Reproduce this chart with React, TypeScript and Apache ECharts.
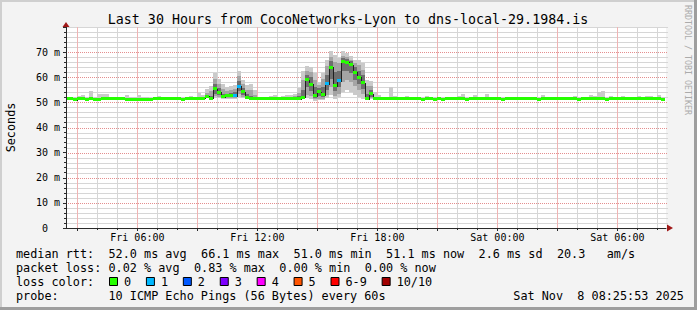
import React, { useEffect, useRef } from 'react';
import * as echarts from 'echarts';

// ---- time frame (hours since Fri 00:00) ----
const START_HOUR = 2 + 25 / 60 + 53 / 3600; // Fri 02:25:53
const SPAN_HOURS = 30;
const FIRST_STEP_HOUR = 2.4; // 12-minute consolidation steps
const STEP_HOURS = 0.2;

// ---- median rtt per 12-minute step (ms) ----
const median = [
  51.6, 51.6, 51.0, 51.7, 51.6, 51.2, 51.4, 51.3, 51.3, 51.6,
  51.6, 51.6, 51.6, 51.6, 51.6, 51.3, 51.3, 51.3, 51.3, 51.3,
  51.3, 51.2, 51.4, 51.4, 51.5, 51.6, 51.5, 51.4, 51.5, 51.2,
  51.5, 51.6, 51.6, 51.6, 51.6, 52.4, 51.7, 55.5, 54.1, 52.3,
  52.6, 52.6, 52.6, 56.4, 54.3, 52.1, 51.5, 51.5, 51.4, 51.4,
  51.4, 51.5, 51.5, 51.4, 51.4, 51.4, 51.4, 51.5, 51.5, 52.1,
  59.0, 57.3, 52.6, 54.2, 53.1, 57.5, 64.0, 56.6, 58.6, 66.1,
  65.9, 65.0, 61.9, 60.0, 57.9, 51.4, 53.4, 51.7, 51.6, 51.6,
  51.6, 51.6, 51.5, 51.5, 51.5, 51.5, 51.5, 51.5, 51.4, 51.2,
  51.5, 51.5, 51.2, 51.5, 51.3, 51.5, 51.5, 51.5, 51.6, 51.6,
  51.2, 51.5, 51.5, 51.5, 51.5, 51.5, 51.5, 51.5, 51.5, 51.2,
  51.4, 51.5, 51.5, 51.5, 51.5, 51.5, 51.5, 51.5, 51.2, 51.5,
  51.5, 51.5, 51.5, 51.5, 51.5, 51.5, 51.5, 51.6, 51.2, 51.4,
  51.4, 51.4, 51.4, 51.7, 51.4, 51.2, 51.5, 51.4, 51.4, 51.4,
  51.4, 51.4, 51.4, 51.4, 51.4, 51.6, 51.4, 51.4, 51.4, 51.1,
];

// ---- highest ping per step (ms) ----
const pingMax = [
  52.2, 52.2, 52.0, 52.4, 53.0, 52.0, 54.7, 52.2, 53.3, 53.3,
  53.3, 52.3, 52.2, 52.1, 52.0, 52.8, 52.0, 52.2, 53.0, 52.1,
  52.0, 51.9, 52.2, 52.6, 52.1, 52.2, 52.3, 52.0, 52.2, 52.3,
  52.2, 52.4, 52.3, 53.6, 53.0, 55.5, 56.5, 61.5, 59.5, 57.5,
  56.0, 56.5, 57.0, 62.3, 59.0, 57.0, 57.5, 55.0, 52.3, 52.2,
  52.0, 52.4, 52.9, 52.2, 52.4, 52.9, 53.0, 53.3, 55.7, 62.3,
  64.3, 64.0, 61.6, 58.3, 61.5, 66.9, 70.3, 69.0, 67.6, 70.3,
  69.6, 68.3, 67.0, 67.0, 65.6, 59.0, 58.7, 54.3, 53.0, 52.3,
  52.2, 56.0, 52.4, 52.2, 52.1, 52.5, 52.0, 52.2, 52.1, 52.3,
  52.6, 52.1, 52.2, 52.0, 52.3, 52.1, 52.2, 52.0, 52.4, 53.4,
  52.2, 52.1, 52.8, 52.2, 52.1, 53.2, 52.3, 52.0, 52.2, 52.1,
  52.0, 52.2, 52.1, 52.3, 52.2, 52.0, 52.2, 52.1, 52.0, 53.0,
  52.2, 52.1, 52.0, 52.2, 52.1, 52.3, 52.2, 52.4, 52.0, 52.2,
  52.3, 53.0, 52.4, 54.0, 54.6, 52.2, 52.4, 52.1, 52.2, 52.7,
  52.1, 52.2, 52.1, 52.7, 52.2, 52.4, 52.7, 52.1, 52.8, 52.0,
];

// ---- lowest ping per step (ms) ----
const pingMin = [
  51.2, 51.2, 50.7, 51.3, 51.2, 50.9, 51.0, 51.0, 51.0, 51.2,
  51.2, 51.2, 51.2, 51.3, 51.2, 51.0, 51.0, 51.0, 51.0, 51.0,
  51.0, 50.9, 51.1, 51.1, 51.1, 51.2, 51.2, 51.1, 51.1, 50.9,
  51.2, 51.2, 51.3, 51.2, 51.2, 51.6, 51.1, 51.8, 51.6, 51.3,
  51.5, 51.5, 51.4, 52.0, 51.6, 51.2, 51.1, 51.1, 51.1, 51.1,
  51.1, 51.2, 51.1, 51.1, 51.1, 51.1, 51.0, 51.1, 51.1, 51.2,
  51.8, 51.5, 50.6, 50.8, 51.0, 51.8, 53.0, 51.5, 52.0, 54.0,
  55.0, 54.0, 53.0, 52.0, 51.5, 50.8, 51.2, 51.3, 51.2, 51.2,
  51.2, 51.2, 51.1, 51.2, 51.1, 51.2, 51.1, 51.2, 51.1, 50.9,
  51.2, 51.1, 50.9, 51.2, 51.0, 51.1, 51.2, 51.1, 51.2, 51.2,
  50.9, 51.2, 51.1, 51.2, 51.1, 51.2, 51.1, 51.2, 51.1, 50.9,
  51.1, 51.2, 51.1, 51.2, 51.1, 51.2, 51.1, 51.2, 50.9, 51.2,
  51.1, 51.2, 51.1, 51.2, 51.1, 51.2, 51.1, 51.2, 50.9, 51.1,
  51.1, 51.1, 51.1, 51.3, 51.1, 50.9, 51.2, 51.1, 51.1, 51.1,
  51.1, 51.1, 51.1, 51.1, 51.1, 51.2, 51.1, 51.1, 51.1, 50.8,
];

// ---- inner smoke bands for the busy window (steps 35..76) ----
const detailStart = 35;
const midLo = [
  51.8, 51.4, 52.5, 52.2, 51.7, 51.8, 51.8, 51.7, 53.2, 52.2,
  51.6, 51.3, 51.3, 51.3, 51.3, 51.2, 51.3, 51.3, 51.2, 51.2,
  51.2, 51.2, 51.3, 51.3, 51.5, 53.0, 52.5, 51.2, 51.5, 51.5,
  53.0, 56.0, 52.5, 53.5, 58.0, 59.0, 58.0, 56.5, 55.0, 53.5,
  51.1, 51.6,
];
const midHi = [
  53.8, 54.5, 59.5, 57.5, 55.5, 54.5, 55.0, 55.5, 60.5, 57.3,
  55.0, 55.0, 53.0, 51.9, 51.8, 51.7, 51.9, 52.2, 51.8, 51.9,
  52.2, 52.3, 52.5, 53.8, 59.0, 62.5, 62.0, 59.0, 57.0, 59.5,
  64.5, 68.0, 66.0, 65.5, 68.5, 68.0, 67.0, 65.5, 65.0, 63.0,
  56.5, 56.5,
];
const coreLo = [
  52.1, 51.5, 53.5, 53.0, 52.0, 52.2, 52.2, 52.1, 54.5, 53.0,
  51.8, 51.4, 51.4, 51.3, 51.3, 51.3, 51.4, 51.4, 51.3, 51.3,
  51.3, 51.3, 51.4, 51.4, 51.8, 56.0, 54.5, 51.8, 52.5, 52.2,
  55.0, 59.5, 54.5, 56.0, 62.5, 62.5, 61.5, 59.0, 57.5, 55.5,
  51.2, 52.2,
];
const coreHi = [
  52.9, 52.5, 57.5, 55.8, 53.5, 53.5, 53.8, 54.0, 58.5, 55.8,
  53.2, 52.5, 52.0, 51.6, 51.6, 51.5, 51.7, 51.8, 51.6, 51.6,
  51.7, 51.7, 51.8, 52.5, 55.0, 61.0, 60.0, 56.0, 55.8, 56.0,
  61.0, 66.5, 62.0, 62.5, 67.5, 67.2, 66.5, 64.0, 62.5, 61.0,
  53.5, 55.0,
];

// ---- packet loss (steps with lost pings, and how many) ----
const lossIndex = [42, 43, 65, 68];
const lossLevel = [1, 1, 1, 1];
const lossColors = ['#26ff00', '#00b8ff', '#0059ff', '#7e00ff', '#ff00ff', '#ff5500', '#ff0000', '#a10000'];
const lossLabels = ['0', '1', '2', '3', '4', '5', '6-9', '10/10'];

// ---- axis ticks / grid ----
const minorHours = [4, 5, 7, 8, 10, 11, 13, 14, 16, 17, 19, 20, 22, 23, 25, 26, 28, 29, 31, 32];
const majorHours = [3, 6, 9, 12, 15, 18, 21, 24, 27, 30];
const labelHours = [6, 12, 18, 24, 30];
const yMax = 80;
const yInterval = 10;
const yMinorValues = [2, 4, 6, 8, 12, 14, 16, 18, 22, 24, 26, 28, 32, 34, 36, 38, 42, 44, 46, 48, 52, 54, 56, 58, 62, 64, 66, 68, 72, 74, 76, 78, 80];
const yMajorValues = [10, 20, 30, 40, 50, 60, 70];

// ---- texts ----
const title = 'Last 30 Hours from CocoNetworks-Lyon to dns-local-29.1984.is';
const rttStats = ['52.0 ms avg', '66.1 ms max', '51.0 ms min', '51.1 ms now', '2.6 ms sd', '20.3', 'am/s'];
const rttCols = [13, 26, 39, 52, 65, 76, 83];
const lossStats = ['0.02 % avg', '0.83 % max', '0.00 % min', '0.00 % now'];
const lossCols = [13, 25, 37, 49];
const probeText = '10 ICMP Echo Pings (56 Bytes) every 60s';
const stampDay = 'Sat Nov';
const stampRest = '8 08:25:53 2025';

const MONO = '"DejaVu Sans Mono", monospace';
const CHAR = 7.117;
const LEG_FONT = `11.8px ${MONO}`;

const RED = '#e48f8f';
const RED_SOFT = '#f0b4b4';
const GRAY_SOFT = '#d6d6d6';

const stepX = (i: number) => FIRST_STEP_HOUR + i * STEP_HOURS;

const clampX = (params: any, l: number, r: number) => {
  const cs = params.coordSys;
  return [Math.max(l, cs.x), Math.min(r, cs.x + cs.width)];
};

function buildOption() {
  const outerData = median.map((_, i) => [stepX(i), stepX(i + 1), pingMin[i], pingMax[i]]);
  const midData = midLo.map((lo, k) => [stepX(detailStart + k), stepX(detailStart + k + 1), lo, midHi[k]]);
  const coreData = coreLo.map((lo, k) => [stepX(detailStart + k), stepX(detailStart + k + 1), lo, coreHi[k]]);
  const lossOf = (i: number) => {
    const k = lossIndex.indexOf(i);
    return k >= 0 ? lossLevel[k] : 0;
  };
  const barData = median.map((m, i) => [stepX(i), stepX(i + 1), m, lossOf(i), i > 0 ? median[i - 1] : m]);

  const bandRender = (fill: string) => (params: any, api: any) => {
    const a = api.coord([api.value(0), api.value(3)]);
    const b = api.coord([api.value(1), api.value(2)]);
    const [l, r] = clampX(params, Math.round(a[0]), Math.round(b[0]));
    const y = Math.round(a[1]);
    const h = Math.max(1, Math.round(b[1]) - y);
    return { type: 'rect', shape: { x: l, y, width: Math.max(0, r - l), height: h }, style: { fill } };
  };

  const lineRender = (params: any, api: any) => {
    const a = api.coord([api.value(0), api.value(2)]);
    const b = api.coord([api.value(1), api.value(2)]);
    const p = api.coord([api.value(0), api.value(4)]);
    const [l, r] = clampX(params, Math.round(a[0]), Math.round(b[0]));
    const y = Math.round(a[1]);
    const py = Math.round(p[1]);
    const top = Math.min(y, py);
    const bot = Math.max(y, py);
    return {
      type: 'group',
      children: [
        { type: 'rect', shape: { x: l, y: y - 0.5, width: Math.max(0, r - l), height: 1 }, style: { fill: '#202020' } },
        { type: 'rect', shape: { x: l, y: top, width: 1, height: bot - top + 1 }, style: { fill: '#202020' } },
      ],
    };
  };

  const barRender = (params: any, api: any) => {
    const a = api.coord([api.value(0), api.value(2)]);
    const b = api.coord([api.value(1), api.value(2)]);
    const [l, r] = clampX(params, Math.round(a[0]), Math.round(b[0]));
    const y = Math.round(a[1] - 1.5);
    return {
      type: 'rect',
      shape: { x: l, y, width: Math.max(0, r - l), height: 3 },
      style: { fill: lossColors[api.value(3)] },
    };
  };

  const axisColor = '#2a2a2a';
  const arrowColor = '#a01818';

  const xLabel = (v: number) => {
    const day = v < 24 ? 'Fri' : 'Sat';
    const h = Math.round(v % 24);
    return `${day} ${String(h).padStart(2, '0')}:00`;
  };

  return {
    animation: false,
    backgroundColor: '#f3f3f3',
    textStyle: { fontFamily: MONO },
    grid: {
      left: 66,
      top: 27,
      width: 600,
      height: 201,
      show: true,
      z: 0,
      backgroundColor: '#ffffff',
      borderWidth: 0,
      containLabel: false,
      outerBoundsMode: 'none',
    },
    xAxis: [
      {
        type: 'value',
        min: START_HOUR,
        max: START_HOUR + SPAN_HOURS,
        position: 'bottom',
        z: 5,
        axisLine: { show: true, onZero: false, lineStyle: { color: axisColor, width: 1 } },
        axisTick: { show: true, customValues: minorHours, length: 2, lineStyle: { color: axisColor } },
        splitLine: { show: false },
        axisLabel: {
          show: true,
          customValues: labelHours,
          formatter: xLabel,
          fontSize: 10,
          fontFamily: MONO,
          color: '#000',
          margin: 4,
        },
      },
      {
        type: 'value',
        min: START_HOUR,
        max: START_HOUR + SPAN_HOURS,
        position: 'bottom',
        z: 5,
        axisLine: {
          show: true,
          onZero: false,
          symbol: ['none', 'triangle'],
          symbolSize: [7, 6],
          symbolOffset: [0, 4],
          lineStyle: { color: arrowColor, width: 0 },
        },
        axisTick: { show: true, customValues: majorHours, length: 3, lineStyle: { color: axisColor } },
        splitLine: { show: false },
        axisLabel: { show: false },
      },
    ],
    yAxis: [
      {
        type: 'value',
        min: 0,
        max: yMax,
        interval: yInterval,
        position: 'left',
        z: 5,
        axisLine: { show: true, onZero: false, lineStyle: { color: axisColor, width: 1 } },
        axisTick: { show: true, length: 3, lineStyle: { color: axisColor } },
        minorTick: { show: true, splitNumber: 5, length: 2, lineStyle: { color: axisColor } },
        splitLine: { show: false },
        minorSplitLine: { show: false },
        axisLabel: {
          show: true,
          showMaxLabel: false,
          margin: 6,
          fontSize: 10,
          fontFamily: MONO,
          color: '#000',
          formatter: (v: number) => (v === 0 ? '{z|0}' : `${v} m`),
          rich: { z: { padding: [0, 12, 0, 0], fontSize: 10, fontFamily: MONO, color: '#000' } },
        },
      },
      {
        type: 'value',
        min: 0,
        max: yMax,
        position: 'left',
        z: 5,
        axisLine: {
          show: true,
          onZero: false,
          symbol: ['none', 'triangle'],
          symbolSize: [7, 5],
          symbolOffset: [0, 2.5],
          lineStyle: { color: arrowColor, width: 0 },
        },
        axisTick: { show: false },
        splitLine: { show: false },
        axisLabel: { show: false },
      },
    ],
    series: [
      { type: 'custom', name: 'smoke outer', renderItem: bandRender('#cacaca'), data: outerData, silent: true, clip: true, z: 2 },
      { type: 'custom', name: 'smoke mid', renderItem: bandRender('#a4a4a4'), data: midData, silent: true, clip: true, z: 2 },
      { type: 'custom', name: 'smoke core', renderItem: bandRender('#6e6e6e'), data: coreData, silent: true, clip: true, z: 2 },
      { type: 'custom', name: 'median', renderItem: lineRender, data: barData, silent: true, clip: true, z: 2 },
      { type: 'custom', name: 'loss', renderItem: barRender, data: barData, silent: true, clip: true, z: 2 },
    ],
  };
}

function buildGraphics(px: (h: number) => number, py: (v: number) => number) {
  const text = (t: string, x: number, y: number, font = LEG_FONT, extra: any = {}) => ({
    type: 'text',
    x,
    y,
    silent: true,
    z: 100,
    style: {
      text: t,
      font,
      fill: '#000',
      textAlign: 'left',
      align: 'left',
      textVerticalAlign: 'middle',
      verticalAlign: 'middle',
      ...extra,
    },
  });

  const left = Math.round(px(START_HOUR));
  const right = Math.round(px(START_HOUR + SPAN_HOURS)) + 2;
  const top = Math.round(py(yMax));
  const bottom = Math.round(py(0));
  const hLine = (v: number, color: string, dotted: boolean) => {
    const y = Math.round(py(v)) + 0.5;
    return {
      type: 'line',
      silent: true,
      z: 1,
      shape: { x1: left, y1: y, x2: right, y2: y },
      style: dotted ? { stroke: color, lineWidth: 1, lineDash: [1, 1] } : { stroke: color, lineWidth: 1 },
    };
  };
  const vLine = (h: number, color: string) => {
    const x = Math.round(px(h)) + 0.5;
    return {
      type: 'line',
      silent: true,
      z: 1,
      shape: { x1: x, y1: top, x2: x, y2: bottom },
      style: { stroke: color, lineWidth: 1 },
    };
  };

  const g: any[] = [];
  yMinorValues.forEach((v) => g.push(hLine(v, GRAY_SOFT, false)));
  minorHours.forEach((h) => g.push(vLine(h, GRAY_SOFT)));
  majorHours.forEach((h) => g.push(vLine(h, RED_SOFT)));
  yMajorValues.forEach((v) => g.push(hLine(v, RED, true)));

  // frame
  g.push({ type: 'rect', shape: { x: 0, y: 0, width: 697, height: 2 }, style: { fill: '#cfcfcf' }, silent: true, z: 100 });
  g.push({ type: 'rect', shape: { x: 0, y: 0, width: 2, height: 310 }, style: { fill: '#cfcfcf' }, silent: true, z: 100 });
  g.push({ type: 'rect', shape: { x: 0, y: 307, width: 697, height: 3 }, style: { fill: '#9e9e9e' }, silent: true, z: 100 });
  g.push({ type: 'rect', shape: { x: 694, y: 0, width: 3, height: 310 }, style: { fill: '#9e9e9e' }, silent: true, z: 100 });

  g.push(text(title, 348, 19, `13.3px ${MONO}`, { textAlign: 'center', align: 'center' }));
  g.push({
    ...text('Seconds', 10.7, 127.5, LEG_FONT, { textAlign: 'center', align: 'center' }),
    rotation: Math.PI / 2,
  });
  g.push({
    ...text('RRDTOOL / TOBI OETIKER', 688, 5, `8.3px ${MONO}`, { fill: '#ababab' }),
    rotation: -Math.PI / 2,
  });

  const rows = [254.3, 268.3, 282.3, 296.3];
  g.push(text('median rtt:', 16, rows[0]));
  rttStats.forEach((s, k) => g.push(text(s, 16 + rttCols[k] * CHAR, rows[0])));
  g.push(text('packet loss:', 16, rows[1]));
  lossStats.forEach((s, k) => g.push(text(s, 16 + lossCols[k] * CHAR, rows[1])));
  g.push(text('loss color:', 16, rows[2]));
  let bx = 109;
  lossLabels.forEach((lab, k) => {
    g.push({
      type: 'rect',
      silent: true,
      z: 100,
      shape: { x: bx + 0.5, y: 277.5, width: 8, height: 8 },
      style: { fill: lossColors[k], stroke: '#000', lineWidth: 1 },
    });
    g.push(text(lab, bx + 15, rows[2]));
    bx = bx + 15 + lab.length * CHAR + 14.8;
  });
  g.push(text('probe:', 16, rows[3]));
  g.push(text(probeText, 16 + 13 * CHAR, rows[3]));
  g.push(text(stampDay, 513.3, rows[3]));
  g.push(text(stampRest, 513.3 + 9 * CHAR, rows[3]));
  return g;
}

export default function App() {
  const ref = useRef<HTMLDivElement>(null);
  useEffect(() => {
    if (!ref.current) return;
    const chart = echarts.init(ref.current, null, { renderer: 'svg', width: 697, height: 310 });
    chart.setOption(buildOption() as any);
    const px = (h: number) => chart.convertToPixel({ xAxisIndex: 0 }, h) as number;
    const py = (v: number) => chart.convertToPixel({ yAxisIndex: 0 }, v) as number;
    chart.setOption({ graphic: buildGraphics(px, py) } as any);
    return () => chart.dispose();
  }, []);
  return <div ref={ref} style={{ position: 'absolute', left: 0, top: 0, width: 697, height: 310 }} />;
}
